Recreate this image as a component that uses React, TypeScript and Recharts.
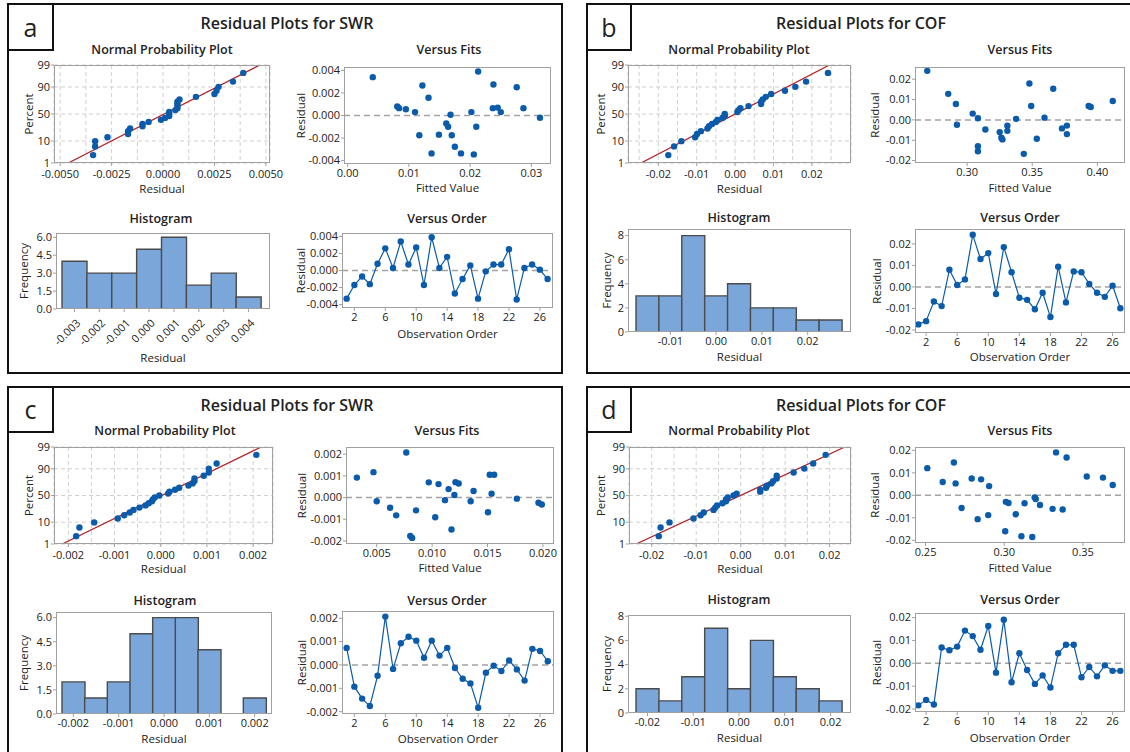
import React from 'react';
import { ScatterChart, Scatter, BarChart, Bar, XAxis, YAxis, CartesianGrid, ReferenceLine } from 'recharts';

const FONT = '"Open Sans", "Noto Sans", sans-serif';
const INK = '#222';
const FRAME = '#a0a0a0';
const BLUE = '#0b5bab';
const RED = '#b3262b';

// shared categories / tick labels
const observation = [1, 2, 3, 4, 5, 6, 7, 8, 9, 10, 11, 12, 13, 14, 15, 16, 17, 18, 19, 20, 21, 22, 23, 24, 25, 26, 27];
const orderTicks = [2, 6, 10, 14, 18, 22, 26];
const percentTicks = [1, 10, 50, 90, 99];

// a - SWR (first model)
const aResid = [-0.0033, -0.0017, -0.0007, -0.0016, 0.0008, 0.0026, 0.0003, 0.0034, 0.0007, 0.0027, -0.0017, 0.0039, 0.0003, 0.0016, -0.0027, -0.0010, 0.0006, -0.0033, -0.0001, 0.0007, 0.0007, 0.0025, -0.0034, 0.0003, 0.0007, 0.0001, -0.0010];
const aFitValue = [0.0041, 0.0081, 0.0084, 0.0095, 0.0110, 0.0117, 0.0122, 0.0132, 0.0137, 0.0149, 0.0161, 0.0164, 0.0168, 0.0170, 0.0175, 0.0185, 0.0202, 0.0206, 0.0210, 0.0213, 0.0237, 0.0238, 0.0245, 0.0250, 0.0276, 0.0287, 0.0314];
const aFitResid = [0.0034, 0.0008, 0.00065, 0.00055, 0.0003, -0.00175, 0.00266, 0.00158, -0.00336, -0.0017, -0.0007, -0.001, 0.00006, -0.00175, -0.00277, -0.00336, 0.0003, -0.00345, -0.001, 0.0039, 0.00065, 0.00275, 0.0007, 0.0003, 0.0025, 0.00065, -0.0002];
const aHistBin = ['-0.003', '-0.002', '-0.001', '0.000', '0.001', '0.002', '0.003', '0.004'];
const aHistCount = [4, 3, 3, 5, 6, 2, 3, 1];
const aNppTicks = [-0.005, -0.0025, 0, 0.0025, 0.005];
const aNppGrid = [-0.005, -0.00375, -0.0025, -0.00125, 0, 0.00125, 0.0025, 0.00375, 0.005];
const aFitTicks = [0, 0.01, 0.02, 0.03];
const aResidTicks = [-0.004, -0.002, 0, 0.002, 0.004];

// b - COF (first model)
const bResid = [-0.0174, -0.0159, -0.0068, -0.0089, 0.0080, 0.0009, 0.0035, 0.0242, 0.0130, 0.0157, -0.0033, 0.0185, 0.0068, -0.0050, -0.0060, -0.0104, -0.0027, -0.0140, 0.0094, -0.0072, 0.0072, 0.0068, 0.0014, -0.0027, -0.0046, 0.0006, -0.0099];
const bFitValue = [0.2694, 0.2855, 0.2914, 0.2922, 0.3043, 0.3083, 0.3083, 0.3083, 0.3140, 0.3250, 0.3263, 0.3271, 0.3309, 0.3309, 0.3376, 0.3435, 0.3478, 0.3492, 0.3535, 0.3594, 0.3661, 0.3728, 0.3766, 0.3766, 0.3933, 0.3949, 0.4118];
const bFitResid = [0.0241, 0.0128, 0.0078, -0.0024, 0.0031, 0.0008, -0.013, -0.0154, -0.0047, -0.006, -0.0088, -0.0096, -0.0029, -0.0054, 0.0005, -0.0167, 0.0179, 0.0068, -0.0093, 0.0011, 0.0153, -0.0042, -0.0028, -0.007, 0.0068, 0.0063, 0.0093];
const bHistBin = ['-0.015', '-0.01', '-0.005', '0.00', '0.005', '0.01', '0.015', '0.02', '0.025'];
const bHistTicks = ['-0.01', '0.00', '0.01', '0.02'];
const bHistCount = [3, 3, 8, 3, 4, 2, 2, 1, 1];
const bNppTicks = [-0.02, -0.01, 0, 0.01, 0.02];
const bNppGrid = [-0.025, -0.02, -0.015, -0.01, -0.005, 0, 0.005, 0.01, 0.015, 0.02, 0.025];
const bFitTicks = [0.3, 0.35, 0.4];
const bResidTicks = [-0.02, -0.01, 0, 0.01, 0.02];

// c - SWR (second model)
const cResid = [0.00073, -0.00093, -0.00144, -0.00176, -0.00046, 0.00207, -0.00017, 0.00093, 0.00121, 0.00104, 0.00031, 0.00104, 0.0004, 0.00073, -0.00013, -0.00059, -0.00079, -0.00183, -0.00033, -0.00003, -0.00026, 0.00019, -0.00019, -0.00067, 0.00069, 0.0006, 0.00016];
const cFitValue = [0.00321, 0.00471, 0.0050, 0.00621, 0.00676, 0.00767, 0.00803, 0.0082, 0.00855, 0.0097, 0.01028, 0.01058, 0.01116, 0.01149, 0.01175, 0.01201, 0.01211, 0.0124, 0.01348, 0.01374, 0.01504, 0.0152, 0.01537, 0.0156, 0.01765, 0.0196, 0.0199];
const cFitResid = [0.00092, 0.00117, -0.00017, -0.00047, -0.00082, 0.00208, -0.00177, -0.00186, -0.00059, 0.0007, -0.00091, 0.00062, -0.00012, 0.00039, -0.00147, 0.00012, 0.00071, 0.00065, -0.00017, 0.0003, -0.00068, 0.00105, 0.00018, 0.00105, -0.00005, -0.00024, -0.00032];
const cHistBin = ['-0.002', '-0.0015', '-0.001', '-0.0005', '0.000', '0.0005', '0.001', '0.0015', '0.002'];
const cHistTicks = ['-0.002', '-0.001', '0.000', '0.001', '0.002'];
const cHistCount = [2, 1, 2, 5, 6, 6, 4, 0, 1];
const cNppTicks = [-0.002, -0.001, 0, 0.001, 0.002];
const cNppGrid = [-0.002, -0.0015, -0.001, -0.0005, 0, 0.0005, 0.001, 0.0015, 0.002];
const cFitTicks = [0.005, 0.01, 0.015, 0.02];
const cResidTicks = [-0.002, -0.001, 0, 0.001, 0.002];

// d - COF (second model)
const dResid = [-0.0184, -0.0160, -0.0180, 0.0069, 0.0057, 0.0073, 0.0143, 0.0119, 0.0059, 0.0163, -0.0041, 0.0191, -0.0083, 0.0044, -0.0029, -0.0090, -0.0053, -0.0106, 0.0044, 0.0081, 0.0081, -0.0061, -0.0016, -0.0057, -0.0009, -0.0033, -0.0033];
const dFitValue = [0.2511, 0.2609, 0.268, 0.2691, 0.2729, 0.2793, 0.2831, 0.2853, 0.2898, 0.2904, 0.3006, 0.3010, 0.3027, 0.3073, 0.3109, 0.3129, 0.3178, 0.3193, 0.3200, 0.3227, 0.3307, 0.3329, 0.3371, 0.3396, 0.3524, 0.3627, 0.3689];
const dFitResid = [0.0121, 0.0059, 0.0146, 0.0053, -0.0056, 0.0075, -0.0106, 0.0071, -0.0088, 0.0041, -0.016, -0.0029, -0.0034, -0.0084, -0.0182, -0.0035, -0.0185, -0.0009, -0.0016, -0.0043, -0.006, 0.0191, -0.0063, 0.0168, 0.0084, 0.0079, 0.0046];
const dHistBin = ['-0.02', '-0.015', '-0.01', '-0.005', '0.00', '0.005', '0.01', '0.015', '0.02'];
const dHistTicks = ['-0.02', '-0.01', '0.00', '0.01', '0.02'];
const dHistCount = [2, 1, 3, 7, 2, 6, 3, 2, 1];
const dNppTicks = [-0.02, -0.01, 0, 0.01, 0.02];
const dNppGrid = [-0.02, -0.015, -0.01, -0.005, 0, 0.005, 0.01, 0.015, 0.02];
const dFitTicks = [0.25, 0.3, 0.35];
const dResidTicks = [-0.02, -0.01, 0, 0.01, 0.02];

const freqTicksA = [0, 1.5, 3, 4.5, 6];
const freqTicksB = [0, 2, 4, 6, 8];

// inverse normal cdf (Acklam) for the probability axis
function probit(p: number) {
  const a = [-39.69683028665376, 220.9460984245205, -275.9285104469687, 138.357751867269, -30.66479806614716, 2.506628277459239];
  const b = [-54.47609879822406, 161.5858368580409, -155.6989798598866, 66.80131188771972, -13.28068155288572];
  const c = [-0.007784894002430293, -0.3223964580411365, -2.400758277161838, -2.549732539343734, 4.374664141464968, 2.938163982698783];
  const d = [0.007784695709041462, 0.3224671290700398, 2.445134137142996, 3.754408661907416];
  const lo = 0.02425;
  if (p < lo) {
    const q = Math.sqrt(-2 * Math.log(p));
    return (((((c[0] * q + c[1]) * q + c[2]) * q + c[3]) * q + c[4]) * q + c[5]) / ((((d[0] * q + d[1]) * q + d[2]) * q + d[3]) * q + 1);
  }
  if (p > 1 - lo) return -probit(1 - p);
  const q = p - 0.5;
  const r = q * q;
  return ((((((a[0] * r + a[1]) * r + a[2]) * r + a[3]) * r + a[4]) * r + a[5]) * q) / (((((b[0] * r + b[1]) * r + b[2]) * r + b[3]) * r + b[4]) * r + 1);
}
const zTicks = percentTicks.map((p) => probit(p / 100));

type Box = [number, number, number, number];
type Place = { box: Box; title: [number, number]; yLabelX: number; xLabelY: number };

const same = (u: number, v: number) => Math.abs(u - v) < 1e-9;

function geom(pl: Place) {
  const [l, t, r, b] = pl.box;
  const mt = 10, mr = 22, mb = 5;
  const yw = l - pl.yLabelX + 10;
  const xh = pl.xLabelY + 4 - b;
  return {
    left: l - yw, top: t - mt,
    width: r - l + yw + mr, height: b - t + mt + xh + mb,
    margin: { top: mt, right: mr, bottom: mb, left: 0 },
    yw, xh,
  };
}

const textStyle = { fontFamily: FONT, fontSize: 11, fill: INK };

function xTick(fmt: (v: any) => string, rotate = false, drop = 0) {
  return (p: any) => {
    const label = fmt(p.payload.value);
    if (label === '') return <g />;
    return (
      <g transform={`translate(${p.x},${p.y})`}>
        <line x1={0} x2={0} y1={-5} y2={-2} stroke={FRAME} />
        {rotate ? (
          <text {...textStyle} textAnchor="end" dy="0.35em" transform="translate(4,7) rotate(-45)">{label}</text>
        ) : (
          <text {...textStyle} textAnchor="middle" y={drop} dy="0.71em">{label}</text>
        )}
      </g>
    );
  };
}

function yTick(fmt: (v: any) => string) {
  return (p: any) => (
    <g transform={`translate(${p.x},${p.y})`}>
      <line x1={1} x2={4} y1={0} y2={0} stroke={FRAME} />
      <text {...textStyle} textAnchor="end" dy="0.35em">{fmt(p.payload.value)}</text>
    </g>
  );
}

const yLab = (value: string) => ({ value, angle: -90, position: 'insideLeft', offset: 10, style: { textAnchor: 'middle', fontFamily: FONT, fontSize: 11.5, fill: INK } });
const xLab = (value: string) => ({ value, position: 'insideBottom', offset: 0, style: { fontFamily: FONT, fontSize: 11.5, fill: INK } });

const dot = (p: any) => <circle cx={p.cx} cy={p.cy} r={3.2} fill={BLUE} />;
const noDot = () => <g />;

function Sub({ pl, title, render }: { pl: Place; title: string; render: (g: any) => React.ReactNode }) {
  const g = geom(pl);
  const [l, t, r, b] = pl.box;
  return (
    <>
      <div style={{ position: 'absolute', left: pl.title[0], top: pl.title[1], transform: 'translate(-50%, -50%)', fontSize: 12.5, fontWeight: 600, whiteSpace: 'nowrap' }}>{title}</div>
      <div style={{ position: 'absolute', left: g.left, top: g.top }}>{render(g)}</div>
      <div style={{ position: 'absolute', left: l, top: t, width: r - l, height: b - t, border: `1px solid ${FRAME}`, boxSizing: 'border-box', pointerEvents: 'none' }} />
    </>
  );
}

const xAxisBase = { axisLine: false, tickLine: false, tickSize: 3, tickMargin: 2, interval: 0 as const };
const yAxisBase = { axisLine: false, tickLine: false, tickSize: 3, tickMargin: 1, interval: 0 as const };

function NormalPlot({ m }: { m: any }) {
  const s = m.npp;
  const sorted = [...m.resid].sort((p: number, q: number) => p - q);
  const n = sorted.length;
  const pts = sorted.map((v: number, i: number) => ({ x: v, y: probit((i + 1 - 0.3) / (n + 0.4)) }));
  const mean = m.resid.reduce((acc: number, v: number) => acc + v, 0) / n;
  const sd = Math.sqrt(m.resid.reduce((acc: number, v: number) => acc + (v - mean) ** 2, 0) / (n - 1));
  const fit = [zTicks[0], zTicks[4]].map((z) => ({ x: mean + sd * z, y: z }));
  const fmtX = (v: number) => (s.ticks.some((t: number) => same(t, v)) ? v.toFixed(s.digits) : '');
  const fmtY = (v: number) => String(percentTicks[zTicks.findIndex((z) => same(z, v))]);
  return (
    <Sub pl={s.place} title="Normal Probability Plot" render={(g) => (
      <ScatterChart width={g.width} height={g.height} margin={g.margin}>
        <CartesianGrid stroke="#d0d0d0" strokeDasharray="4 3" />
        <XAxis {...xAxisBase} type="number" dataKey="x" domain={s.domain} allowDataOverflow ticks={s.grid} height={g.xh} tick={xTick(fmtX, false, 2)} label={xLab('Residual')} />
        <YAxis {...yAxisBase} type="number" dataKey="y" domain={[zTicks[0], zTicks[4]]} allowDataOverflow ticks={zTicks} width={g.yw} tick={yTick(fmtY)} label={yLab('Percent')} />
        <Scatter data={fit} line={{ stroke: RED, strokeWidth: 1.3 }} shape={noDot} isAnimationActive={false} />
        <Scatter data={pts} shape={dot} isAnimationActive={false} />
      </ScatterChart>
    )} />
  );
}

function FitsPlot({ m }: { m: any }) {
  const s = m.fits;
  const pts = m.fitValue.map((v: number, i: number) => ({ x: v, y: m.fitResid[i] }));
  return (
    <Sub pl={s.place} title="Versus Fits" render={(g) => (
      <ScatterChart width={g.width} height={g.height} margin={g.margin}>
        <XAxis {...xAxisBase} type="number" dataKey="x" domain={s.xDomain} allowDataOverflow ticks={s.xTicks} height={g.xh} tick={xTick((v: number) => v.toFixed(s.xDigits))} label={xLab('Fitted Value')} />
        <YAxis {...yAxisBase} type="number" dataKey="y" domain={s.yDomain} allowDataOverflow ticks={m.residTicks} width={g.yw} tick={yTick((v: number) => v.toFixed(m.residDigits))} label={yLab('Residual')} />
        <ReferenceLine y={0} stroke="#a3a3a3" strokeWidth={1.5} strokeDasharray="6 4" />
        <Scatter data={pts} shape={dot} isAnimationActive={false} />
      </ScatterChart>
    )} />
  );
}

function HistPlot({ m }: { m: any }) {
  const s = m.hist;
  const rows = m.histBin.map((bin: string, i: number) => ({ bin, count: m.histCount[i] }));
  const fmtX = (v: string) => (m.histTicks.includes(v) ? v : '');
  return (
    <Sub pl={s.place} title="Histogram" render={(g) => (
      <BarChart width={g.width} height={g.height} margin={g.margin} data={rows} barCategoryGap={0}>
        <XAxis {...xAxisBase} dataKey="bin" height={g.xh} padding={{ left: s.pad[0], right: s.pad[1] }} tick={xTick(fmtX, s.rotate)} label={xLab('Residual')} />
        <YAxis {...yAxisBase} type="number" domain={[0, s.yMax]} allowDataOverflow ticks={s.yTicks} width={g.yw} tick={yTick((v: number) => v.toFixed(s.yDigits))} label={yLab('Frequency')} />
        <Bar dataKey="count" fill="#7ba6da" stroke="#4b4b4b" strokeWidth={1.4} isAnimationActive={false} />
      </BarChart>
    )} />
  );
}

function OrderPlot({ m }: { m: any }) {
  const s = m.order;
  const pts = observation.map((o, i) => ({ x: o, y: m.resid[i] }));
  return (
    <Sub pl={s.place} title="Versus Order" render={(g) => (
      <ScatterChart width={g.width} height={g.height} margin={g.margin}>
        <XAxis {...xAxisBase} type="number" dataKey="x" domain={s.xDomain} allowDataOverflow ticks={orderTicks} height={g.xh} tick={xTick((v: number) => String(v))} label={xLab('Observation Order')} />
        <YAxis {...yAxisBase} type="number" dataKey="y" domain={s.yDomain} allowDataOverflow ticks={m.residTicks} width={g.yw} tick={yTick((v: number) => v.toFixed(m.residDigits))} label={yLab('Residual')} />
        <ReferenceLine y={0} stroke="#a3a3a3" strokeWidth={1.5} strokeDasharray="6 4" />
        <Scatter data={pts} line={{ stroke: BLUE, strokeWidth: 1.2 }} shape={dot} isAnimationActive={false} />
      </ScatterChart>
    )} />
  );
}

const models = [
  {
    letter: 'a', title: 'Residual Plots for SWR', frame: [7, 3, 563, 374], letterBox: [7, 3, 54, 51], titleAt: [287, 23],
    resid: aResid, fitValue: aFitValue, fitResid: aFitResid, residTicks: aResidTicks, residDigits: 3,
    histBin: aHistBin, histCount: aHistCount, histTicks: aHistBin,
    npp: { place: { box: [54, 65, 270, 163], title: [162, 49], yLabelX: 29, xLabelY: 189 }, domain: [-0.0053, 0.0052], ticks: aNppTicks, grid: aNppGrid, digits: 4 },
    fits: { place: { box: [344, 67, 551, 164], title: [449, 49], yLabelX: 301, xLabelY: 188 }, xDomain: [-0.0006, 0.0332], xTicks: aFitTicks, xDigits: 2, yDomain: [-0.0043, 0.0043] },
    hist: { place: { box: [56, 233, 270, 309], title: [161, 218], yLabelX: 24, xLabelY: 358 }, pad: [6, 9], yMax: 6.36, yTicks: freqTicksA, yDigits: 1, rotate: true },
    order: { place: { box: [342, 233, 553, 308], title: [447, 218], yLabelX: 301, xLabelY: 334 }, xDomain: [0.4, 27.7], yDomain: [-0.0044, 0.0044] },
  },
  {
    letter: 'b', title: 'Residual Plots for COF', frame: [586, 3, 1134, 374], letterBox: [586, 3, 632, 51], titleAt: [861, 23],
    resid: bResid, fitValue: bFitValue, fitResid: bFitResid, residTicks: bResidTicks, residDigits: 2,
    histBin: bHistBin, histCount: bHistCount, histTicks: bHistTicks,
    npp: { place: { box: [628, 65, 851, 163], title: [739, 49], yLabelX: 601, xLabelY: 189 }, domain: [-0.0279, 0.0302], ticks: bNppTicks, grid: bNppGrid, digits: 2 },
    fits: { place: { box: [915, 67, 1125, 163], title: [1020, 49], yLabelX: 875, xLabelY: 188 }, xDomain: [0.26, 0.4212], xTicks: bFitTicks, xDigits: 2, yDomain: [-0.0212, 0.026] },
    hist: { place: { box: [628, 229, 851, 332], title: [739, 217], yLabelX: 607, xLabelY: 357 }, pad: [8, 9], yMax: 8.55, yTicks: freqTicksB, yDigits: 0, rotate: false },
    order: { place: { box: [915, 229, 1125, 333], title: [1020, 217], yLabelX: 877, xLabelY: 357 }, xDomain: [0.57, 27.6], yDomain: [-0.0214, 0.0269] },
  },
  {
    letter: 'c', title: 'Residual Plots for SWR', frame: [7, 386, 563, 756], letterBox: [7, 386, 54, 433], titleAt: [287, 405],
    resid: cResid, fitValue: cFitValue, fitResid: cFitResid, residTicks: cResidTicks, residDigits: 3,
    histBin: cHistBin, histCount: cHistCount, histTicks: cHistTicks,
    npp: { place: { box: [54, 447, 273, 544], title: [165, 430], yLabelX: 29, xLabelY: 569 }, domain: [-0.00231, 0.00243], ticks: cNppTicks, grid: cNppGrid, digits: 3 },
    fits: { place: { box: [346, 447, 554, 544], title: [447, 430], yLabelX: 302, xLabelY: 568 }, xDomain: [0.00223, 0.021], xTicks: cFitTicks, xDigits: 3, yDomain: [-0.00214, 0.00233] },
    hist: { place: { box: [56, 612, 272, 714], title: [165, 600], yLabelX: 24, xLabelY: 739 }, pad: [6, 6], yMax: 6.35, yTicks: freqTicksA, yDigits: 1, rotate: false },
    order: { place: { box: [342, 611, 554, 714], title: [447, 600], yLabelX: 302, xLabelY: 739 }, xDomain: [0.4, 27.8], yDomain: [-0.0021, 0.00231] },
  },
  {
    letter: 'd', title: 'Residual Plots for COF', frame: [586, 386, 1134, 756], letterBox: [586, 386, 632, 433], titleAt: [861, 405],
    resid: dResid, fitValue: dFitValue, fitResid: dFitResid, residTicks: dResidTicks, residDigits: 2,
    histBin: dHistBin, histCount: dHistCount, histTicks: dHistTicks,
    npp: { place: { box: [629, 447, 851, 544], title: [739, 430], yLabelX: 601, xLabelY: 569 }, domain: [-0.0251, 0.0248], ticks: dNppTicks, grid: dNppGrid, digits: 2 },
    fits: { place: { box: [915, 447, 1125, 543], title: [1020, 430], yLabelX: 875, xLabelY: 568 }, xDomain: [0.2433, 0.3767], xTicks: dFitTicks, xDigits: 2, yDomain: [-0.0212, 0.0215] },
    hist: { place: { box: [628, 615, 851, 713], title: [739, 599], yLabelX: 607, xLabelY: 738 }, pad: [8, 9], yMax: 8.1, yTicks: freqTicksB, yDigits: 0, rotate: false },
    order: { place: { box: [915, 613, 1125, 712], title: [1020, 599], yLabelX: 877, xLabelY: 738 }, xDomain: [0.57, 27.6], yDomain: [-0.0213, 0.022] },
  },
];

function Panel({ m }: { m: any }) {
  const [fl, ft, fr, fb] = m.frame;
  const [ll, lt, lr, lb] = m.letterBox;
  return (
    <>
      <div style={{ position: 'absolute', left: fl, top: ft, width: fr - fl, height: fb - ft, border: '2px solid #111', boxSizing: 'border-box' }} />
      <div style={{ position: 'absolute', left: m.titleAt[0], top: m.titleAt[1], transform: 'translate(-50%, -50%)', fontSize: 16, fontWeight: 600, whiteSpace: 'nowrap' }}>{m.title}</div>
      <NormalPlot m={m} />
      <FitsPlot m={m} />
      <HistPlot m={m} />
      <OrderPlot m={m} />
      <div style={{ position: 'absolute', left: ll, top: lt, width: lr - ll, height: lb - lt, border: '2px solid #111', boxSizing: 'border-box', background: '#fff', display: 'flex', alignItems: 'center', justifyContent: 'center', fontSize: 25, lineHeight: 1 }}>{m.letter}</div>
    </>
  );
}

export default function App() {
  return (
    <div style={{ position: 'absolute', left: 0, top: 0, width: 1130, height: 752, overflow: 'hidden', background: '#fff', fontFamily: FONT, color: INK }}>
      {models.map((m) => <Panel key={m.letter} m={m} />)}
    </div>
  );
}
